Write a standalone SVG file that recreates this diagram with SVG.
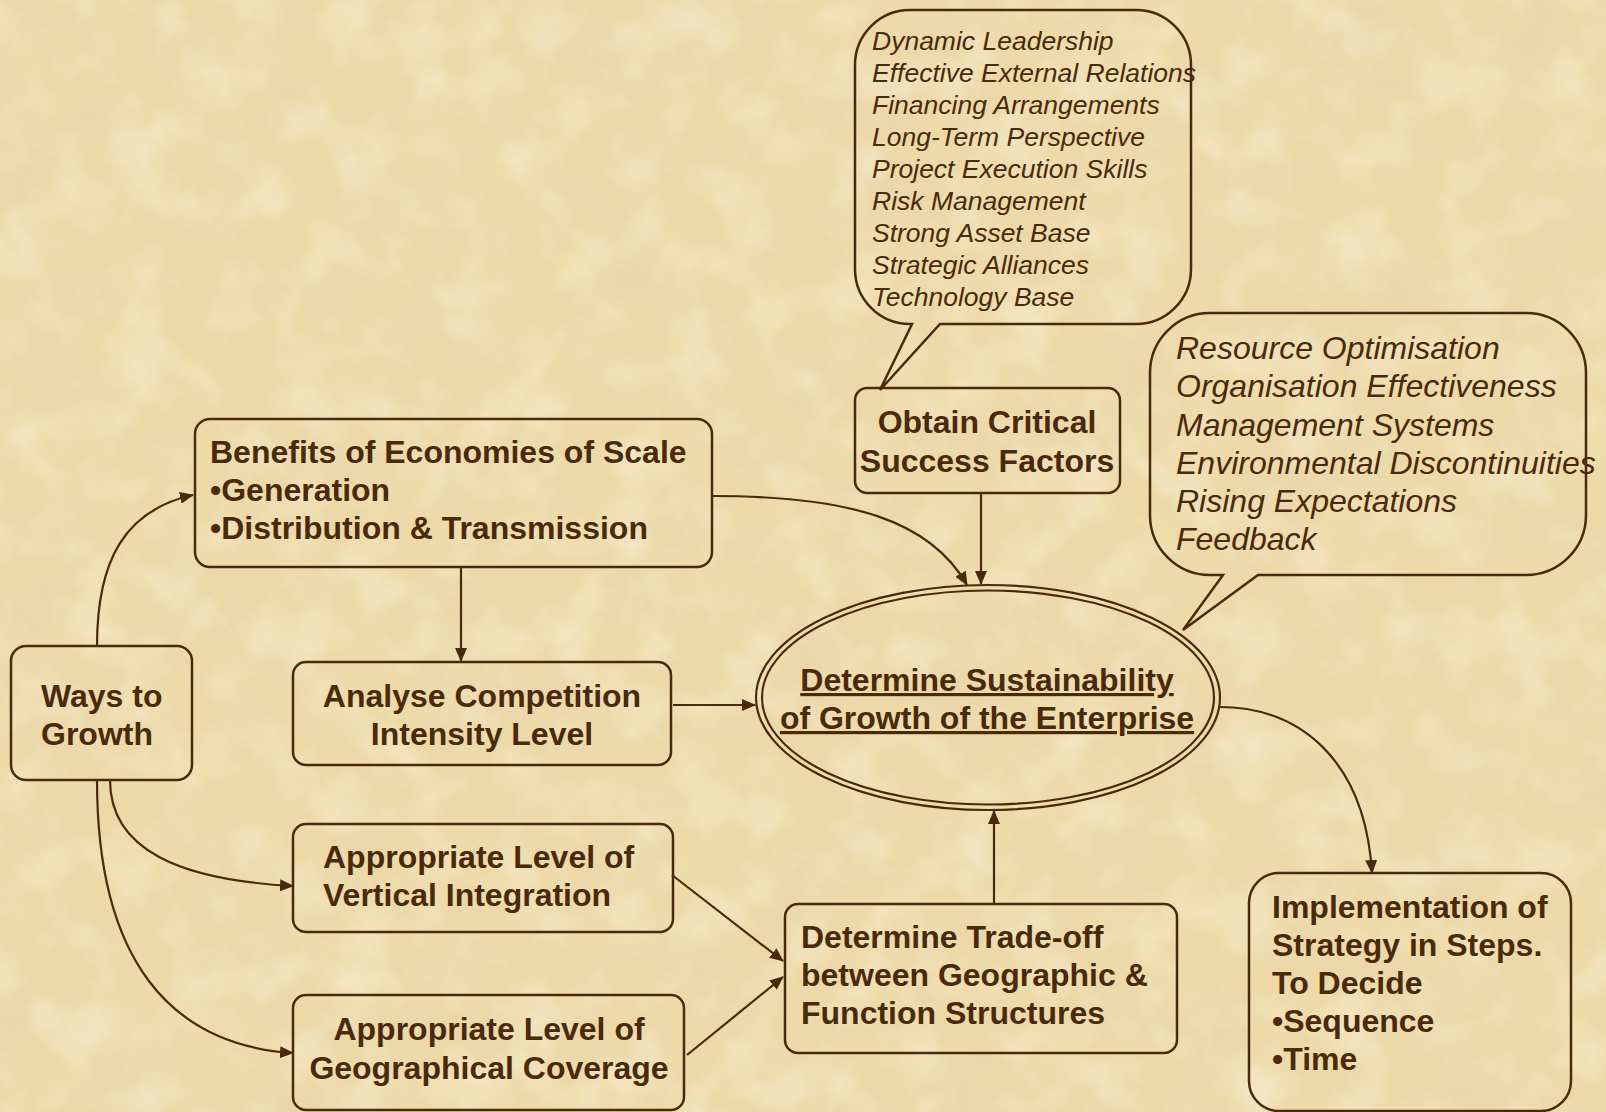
<svg xmlns="http://www.w3.org/2000/svg" width="1606" height="1112" viewBox="0 0 1606 1112">
<style>
.box{fill:none;stroke:#4a2a0c;stroke-width:2.5}
.b{font-family:"Liberation Sans",Arial,sans-serif;font-weight:bold;font-size:32px;fill:#4a2a0c}
.i{font-family:"Liberation Sans",Arial,sans-serif;font-style:italic;fill:#4a2a0c}
.c{text-anchor:middle}
.ln{fill:none;stroke:#4a2a0c;stroke-width:2.2}
</style>
<defs>
<filter id="tex" x="0" y="0" width="100%" height="100%">
<feTurbulence type="fractalNoise" baseFrequency="0.012" numOctaves="5" seed="7"/>
<feColorMatrix type="matrix" values="0 0 0 0 0.78  0 0 0 0 0.64  0 0 0 0 0.40  1.8 0 0 0 -0.7"/>
</filter>
<filter id="lite" x="0" y="0" width="100%" height="100%">
<feTurbulence type="fractalNoise" baseFrequency="0.018" numOctaves="4" seed="21"/>
<feColorMatrix type="matrix" values="0 0 0 0 1  0 0 0 0 0.96  0 0 0 0 0.86  2.0 0 0 0 -0.85"/>
</filter>
<marker id="ah" viewBox="0 0 14 12" refX="13" refY="6" markerWidth="14" markerHeight="12" markerUnits="userSpaceOnUse" orient="auto">
<path d="M0,0 L14,6 L0,12 Z" fill="#4a2a0c"/>
</marker>
</defs>
<rect width="1606" height="1112" fill="#eedaa8"/>
<rect width="1606" height="1112" filter="url(#tex)" opacity="0.45"/>
<rect width="1606" height="1112" filter="url(#lite)" opacity="0.4"/>

<g id="connectors">
<path class="ln" d="M97,646 C97,560 125,510 193,495" marker-end="url(#ah)"/>
<path class="ln" d="M110,780 C110,850 180,880 293,886" marker-end="url(#ah)"/>
<path class="ln" d="M97,780 C97,960 170,1045 293,1053" marker-end="url(#ah)"/>
<path class="ln" d="M461,568 L461,661" marker-end="url(#ah)"/>
<path class="ln" d="M712,496 C850,496 930,520 967,585" marker-end="url(#ah)"/>
<path class="ln" d="M981,494 L981,584" marker-end="url(#ah)"/>
<path class="ln" d="M673,705 L755,705" marker-end="url(#ah)"/>
<path class="ln" d="M672,875 L783,961" marker-end="url(#ah)"/>
<path class="ln" d="M687,1055 L783,977" marker-end="url(#ah)"/>
<path class="ln" d="M994,904 L994,811" marker-end="url(#ah)"/>
<path class="ln" d="M1219,707 C1300,707 1365,760 1372,873" marker-end="url(#ah)"/>
</g>

<g id="csf-list">
<path class="box" d="M910,10 H1136 A55,55 0 0 1 1191,65 V269 A55,55 0 0 1 1136,324 H940 L880,390 L912,324 H910 A55,55 0 0 1 855,269 V65 A55,55 0 0 1 910,10 Z"/>
<g class="i" font-size="26.5">
<text x="872" y="50">Dynamic Leadership</text>
<text x="872" y="82">Effective External Relations</text>
<text x="872" y="114">Financing Arrangements</text>
<text x="872" y="146">Long-Term Perspective</text>
<text x="872" y="178">Project Execution Skills</text>
<text x="872" y="210">Risk Management</text>
<text x="872" y="242">Strong Asset Base</text>
<text x="872" y="274">Strategic Alliances</text>
<text x="872" y="306">Technology Base</text>
</g>
</g>

<g id="factors-list">
<path class="box" d="M1210,313 H1526 A60,60 0 0 1 1586,373 V515 A60,60 0 0 1 1526,575 H1258 L1183,630 L1223,575 H1210 A60,60 0 0 1 1150,515 V373 A60,60 0 0 1 1210,313 Z"/>
<g class="i" font-size="32">
<text x="1176" y="359">Resource Optimisation</text>
<text x="1176" y="397">Organisation Effectiveness</text>
<text x="1176" y="436">Management Systems</text>
<text x="1176" y="474">Environmental Discontinuities</text>
<text x="1176" y="512">Rising Expectations</text>
<text x="1176" y="550">Feedback</text>
</g>
</g>

<g id="obtain-csf">
<rect class="box" x="855" y="388" width="265" height="105" rx="12"/>
<text class="b c" x="987" y="433">Obtain Critical</text>
<text class="b c" x="987" y="472">Success Factors</text>
</g>

<g id="benefits">
<rect class="box" x="195" y="419" width="517" height="148" rx="15"/>
<text class="b" x="210" y="463">Benefits of Economies of Scale</text>
<text class="b" x="210" y="501">•Generation</text>
<text class="b" x="210" y="539">•Distribution &amp; Transmission</text>
</g>

<g id="ways">
<rect class="box" x="11" y="646" width="181" height="134" rx="15"/>
<text class="b" x="41" y="707">Ways to</text>
<text class="b" x="41" y="745">Growth</text>
</g>

<g id="analyse">
<rect class="box" x="293" y="662" width="378" height="103" rx="13"/>
<text class="b c" x="482" y="707">Analyse Competition</text>
<text class="b c" x="482" y="745">Intensity Level</text>
</g>

<g id="sustainability">
<ellipse cx="988" cy="697.5" rx="232" ry="112.5" fill="none" stroke="#4a2a0c" stroke-width="2.2"/>
<ellipse cx="988" cy="697.5" rx="226" ry="107" fill="none" stroke="#4a2a0c" stroke-width="2.2"/>
<text class="b c" x="987" y="691" text-decoration="underline">Determine Sustainability</text>
<text class="b c" x="987" y="729" text-decoration="underline">of Growth of the Enterprise</text>
</g>

<g id="vertical">
<rect class="box" x="293" y="824" width="380" height="108" rx="13"/>
<text class="b" x="323" y="868">Appropriate Level of</text>
<text class="b" x="323" y="906">Vertical Integration</text>
</g>

<g id="geographical">
<rect class="box" x="293" y="995" width="391" height="115" rx="13"/>
<text class="b c" x="489" y="1040">Appropriate Level of</text>
<text class="b c" x="489" y="1079">Geographical Coverage</text>
</g>

<g id="tradeoff">
<rect class="box" x="785" y="904" width="392" height="149" rx="13"/>
<text class="b" x="801" y="948">Determine Trade-off</text>
<text class="b" x="801" y="986">between Geographic &amp;</text>
<text class="b" x="801" y="1024">Function Structures</text>
</g>

<g id="implementation">
<rect class="box" x="1249" y="873" width="322" height="238" rx="30"/>
<text class="b" x="1272" y="918">Implementation of</text>
<text class="b" x="1272" y="956">Strategy in Steps.</text>
<text class="b" x="1272" y="994">To Decide</text>
<text class="b" x="1272" y="1032">•Sequence</text>
<text class="b" x="1272" y="1070">•Time</text>
</g>
</svg>
